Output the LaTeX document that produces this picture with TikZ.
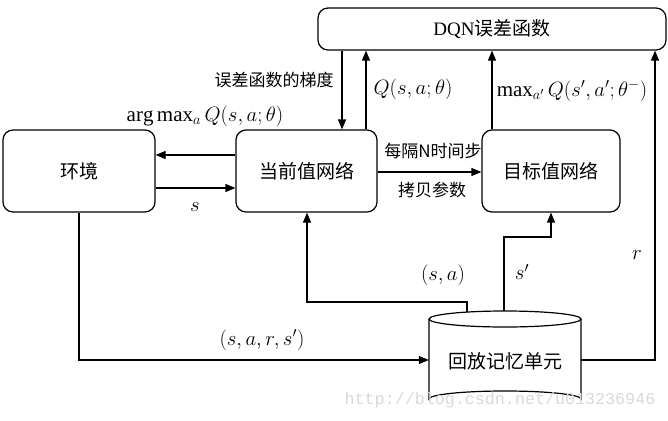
\documentclass[tikz,border=0pt]{standalone}
\usepackage{fontspec}
\setmainfont{Liberation Serif}
\newfontfamily\cjk{Noto Sans CJK SC}
\setmonofont{Liberation Mono}
\usetikzlibrary{arrows.meta}
\tikzset{
  box/.style={draw,line width=1.2pt,rounded corners=10pt,font=\cjk\fontsize{19}{22}\selectfont},
  arr/.style={line width=1.2pt,-{Triangle[length=10pt,width=8pt]}},
  ln/.style={line width=1.2pt},
  lab/.style={font=\cjk\fontsize{17}{20}\selectfont},
  mlab/.style={font=\fontsize{21}{24}\selectfont}
}
\begin{document}
\begin{tikzpicture}[x=1pt,y=-1pt]
\useasboundingbox (0,0) rectangle (668,420);
\node[box,minimum width=348pt,minimum height=42pt] (dqn) at (492,29) {{\fontspec{Liberation Serif}DQN}误差函数};
\node[box,minimum width=152pt,minimum height=82pt] (env) at (79,171) {环境};
\node[box,minimum width=141pt,minimum height=82pt] (cur) at (306.5,171) {当前值网络};
\node[box,minimum width=138pt,minimum height=82pt] (tgt) at (551,171) {目标值网络};
% replay memory cylinder
\node[minimum width=152pt,minimum height=88pt,inner sep=0pt] (mem) at (505,363) {};
\draw[ln,fill=white] (429,319) -- (429,399) arc[start angle=180,end angle=360,x radius=76,y radius=8] -- (581,319);
\draw[ln] (505,319) ellipse[x radius=76,y radius=8];
\node[font=\cjk\fontsize{19}{22}\selectfont] (memtext) at (505,361) {回放记忆单元};
% coordinates on memory
\coordinate (memtopA) at (467,312);
\coordinate (memtopB) at (504,311);
% connectors
\draw[arr] (cur.west |- 0,155) -- (env.east |- 0,155);
\draw[arr] (env.east |- 0,188) -- (cur.west |- 0,188);
\draw[arr] (dqn.south -| 342,0) -- (cur.north -| 342,0);
\draw[arr] (cur.north -| 366,0) -- (dqn.south -| 366,0);
\draw[arr] (tgt.north -| 492,0) -- (dqn.south -| 492,0);
\draw[arr] (cur.east |- 0,172) -- (tgt.west |- 0,172);
\draw[arr] (mem.east |- 0,360) -- (655,360) -- (dqn.south -| 655,0);
\draw[arr] (memtopB) -- (504,237) -- (551,237) -- (tgt.south -| 551,0);
\draw[arr] (memtopA) -- (467,302) -- (307,302) -- (cur.south -| 307,0);
\draw[arr] (env.south -| 79,0) -- (79,360) -- (mem.west |- 0,360);
% labels
\node[mlab] at (205,116) {$\arg\max\nolimits_a Q\bigl(s,a;\theta\bigr)$};
\node[mlab] at (195,207) {$s$};
\node[lab] at (274,80) {误差函数的梯度};
\node[mlab] at (413,89) {$Q\bigl(s,a;\theta\bigr)$};
\node[mlab] at (572,91) {$\max\nolimits_{a'} Q\bigl(s',a';\theta^{-}\bigr)$};
\node[lab] at (433,151) {每隔N时间步};
\node[lab] at (432,190) {拷贝参数};
\node[mlab] at (443,275) {$\bigl(s,a\bigr)$};
\node[mlab] at (522,272) {$s'$};
\node[mlab] at (637,255) {$r$};
\node[mlab] at (262,340) {$\bigl(s,a,r,s'\bigr)$};
\node[font=\ttfamily\fontsize{16.7}{19}\selectfont,text=black!15] at (500,400) {http://blog.csdn.net/u013236946};
\end{tikzpicture}
\end{document}
